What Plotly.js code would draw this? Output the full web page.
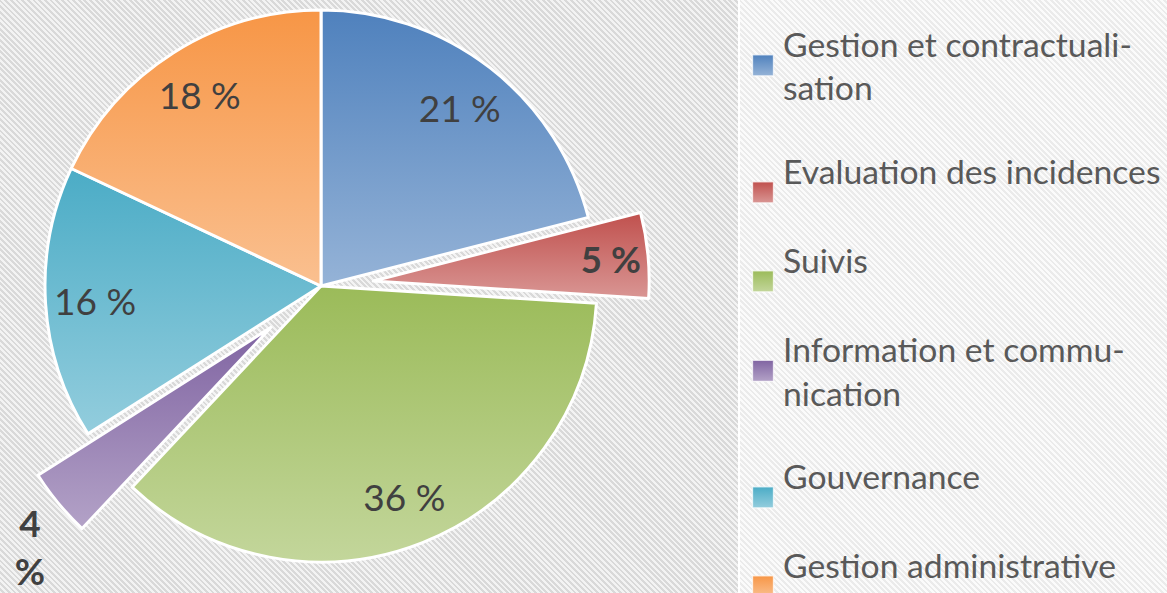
<!DOCTYPE html>
<html>
<head>
<meta charset="utf-8">
<script src="https://cdn.plot.ly/plotly-3.0.1.min.js"></script>
<style>
html,body{margin:0;padding:0;width:1167px;height:593px;overflow:hidden;background:#fff;}
#wrap{position:relative;width:1167px;height:593px;overflow:hidden;}
#bgL{position:absolute;left:0;top:0;width:738px;height:593px;
 background:repeating-linear-gradient(45deg,#f3f3f3 0px,#f3f3f3 2px,#d9d9d9 2px,#d9d9d9 4px);}
#bgR{position:absolute;left:740px;top:0;width:427px;height:593px;
 background:repeating-linear-gradient(45deg,#fbfbfb 0px,#fbfbfb 2px,#ebebeb 2px,#ebebeb 4px);}
#chart{position:absolute;}
#gdefs{position:absolute;width:0;height:0;}
</style>
</head>
<body>
<div id="wrap">
  <div id="bgL"></div>
  <div id="bgR"></div>
  <div id="chart"></div>
</div>
<svg id="gdefs" xmlns="http://www.w3.org/2000/svg"><defs id="gd"></defs></svg>
<script>
// ---- data ----
const labels = ['Gestion et contractualisation','Evaluation des incidences','Suivis','Information et communication','Gouvernance','Gestion administrative'];
const legendText = ['Gestion et contractuali-<br>sation','Evaluation des incidences<br> ','Suivis<br> ','Information et commu-<br>nication','Gouvernance<br> ','Gestion administrative<br> '];
const values = [21, 5, 36, 4, 16, 18];
const pulls = [0, 0.19, 0, 0.235, 0, 0];
const colorsTop = ['#4f81bd','#c0504d','#9bbb59','#8064a2','#4bacc6','#f79646'];
const colorsBottom = ['#95b3d7','#d99694','#c3d69b','#b3a2c7','#93cddd','#fac090'];
const colorsMid = ['#7096c8','#cd726f','#afc87a','#9a84b5','#6fbdd2','#f8ab6b'];
const insideTemplates = ['%{value} %','<b>%{value} %</b>','%{value} %','','%{value} %','%{value} %'];
const insidePositions = ['inside','inside','inside','none','inside','inside'];
const outsideTemplates = ['','','','<b>%{value}<br>%</b>','',''];
const outsidePositions = ['none','none','none','outside','none','none'];

// ---- geometry (page px) ----
const OX = 40, OY = 70;
const W = 1167 + OX, H = 760;
const CX = 321, CY = 286, R = 276;
const maxPull = Math.max(...pulls);
const half = R * (1 + maxPull);
function domainAt(cx, cy) {
  const cxd = cx + OX, cyd = cy + OY;
  return {
    x: [(cxd - half) / W, (cxd + half) / W],
    y: [(H - (cyd + half)) / H, (H - (cyd - half)) / H]
  };
}
const dom = domainAt(CX, CY);
const domOut = domainAt(CX + 10, CY + 24);   // small nudge for the outside label
const chart = document.getElementById('chart');
chart.style.left = (-OX) + 'px';
chart.style.top = (-OY) + 'px';
chart.style.width = W + 'px';
chart.style.height = H + 'px';

const FONT = 'Lato, "Open Sans", sans-serif';
const transparent = labels.map(() => 'rgba(0,0,0,0)');
const labelFont = {family: FONT, size: 37, color: '#404040'};

const traces = [{
  type: 'pie', labels: labels, values: values, sort: false,
  direction: 'clockwise', rotation: 0, pull: pulls, domain: dom,
  marker: {colors: colorsMid, line: {color: '#ffffff', width: 3}},
  textinfo: 'none', showlegend: false, hoverinfo: 'none'
}, {
  // label ring: places the percentage labels in the outer part of each slice
  type: 'pie', labels: labels, values: values, sort: false,
  direction: 'clockwise', rotation: 0, pull: pulls, domain: dom, hole: 0.64,
  marker: {colors: transparent, line: {width: 0}},
  texttemplate: insideTemplates, textposition: insidePositions,
  insidetextorientation: 'horizontal',
  textfont: labelFont, insidetextfont: labelFont,
  showlegend: false, hoverinfo: 'none'
}, {
  type: 'pie', labels: labels, values: values, sort: false,
  direction: 'clockwise', rotation: 0, pull: pulls, domain: domOut,
  marker: {colors: transparent, line: {width: 0}},
  texttemplate: outsideTemplates, textposition: outsidePositions,
  outsidetextfont: labelFont, textfont: labelFont,
  showlegend: false, hoverinfo: 'none'
}];

const legendTargetsY = [65.5, 192.5, 281.5, 371, 497.5, 586.5];
const layout = {
  width: W, height: H,
  margin: {l: 0, r: 0, t: 0, b: 0},
  paper_bgcolor: 'rgba(0,0,0,0)',
  plot_bgcolor: 'rgba(0,0,0,0)',
  showlegend: true,
  xaxis: {visible: false},
  yaxis: {visible: false}
};
const legendIds = [];
labels.forEach((lab, i) => {
  const id = i === 0 ? 'legend' : 'legend' + (i + 1);
  legendIds.push(id);
  traces.push({
    type: 'scatter', mode: 'markers', x: [null], y: [null],
    name: legendText[i], legend: id, hoverinfo: 'skip',
    marker: {symbol: 'square', size: 16, color: colorsMid[i], line: {color: 'rgba(255,255,255,0.7)', width: 1}}
  });
  layout[id] = {
    x: (743 + OX) / W, xanchor: 'left',
    y: (H - (legendTargetsY[i] + OY)) / H, yanchor: 'middle',
    bgcolor: 'rgba(0,0,0,0)', borderwidth: 0,
    font: {family: FONT, size: 33.7, color: '#595959'},
    valign: 'middle'
  };
});

function addGrad(id, top, bottom) {
  const ns = 'http://www.w3.org/2000/svg';
  const lg = document.createElementNS(ns, 'linearGradient');
  lg.setAttribute('id', id);
  lg.setAttribute('x1', '0'); lg.setAttribute('y1', '0');
  lg.setAttribute('x2', '0'); lg.setAttribute('y2', '1');
  [[0, top], [1, bottom]].forEach(([o, c]) => {
    const s = document.createElementNS(ns, 'stop');
    s.setAttribute('offset', o);
    s.setAttribute('stop-color', c);
    lg.appendChild(s);
  });
  document.getElementById('gd').appendChild(lg);
}
colorsTop.forEach((c, i) => addGrad('sg' + i, c, colorsBottom[i]));

Plotly.newPlot(chart, traces, layout, {displayModeBar: false, staticPlot: true}).then(gd => {
  const firstPie = gd.querySelector('.pielayer .trace');
  if (firstPie) {
    firstPie.querySelectorAll('.slice path.surface').forEach((p, i) => {
      p.style.fill = 'url(#sg' + i + ')';
    });
  }
  legendIds.forEach((id, i) => {
    const p = gd.querySelector('g.' + id + ' path.scatterpts');
    if (p) {
      p.style.fill = 'url(#sg' + i + ')';
      p.setAttribute('transform', (p.getAttribute('transform') || '') + ' scale(1.31)');
    }
  });
});
</script>
</body>
</html>
